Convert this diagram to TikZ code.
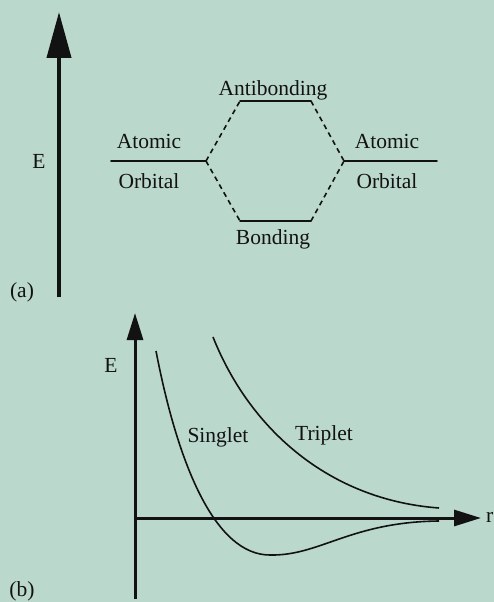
\documentclass[tikz,border=0pt]{standalone}
\usepackage{fontspec}
\setmainfont{Liberation Serif}
\usetikzlibrary{arrows.meta}
\definecolor{paper}{HTML}{BBD8CC}
\definecolor{ink}{HTML}{121212}

\begin{document}
\begin{tikzpicture}[x=1pt,y=-1pt,font=\fontsize{21.5}{25}\selectfont,text=ink,
  level/.style={draw=ink,line width=1.6pt,line cap=round},
  link/.style={draw=ink,line width=1.6pt,dash pattern=on 5pt off 4pt},
  curve/.style={draw=ink,line width=1.6pt},
  bigaxis/.style={draw=ink,line width=4pt,-{Triangle[length=46pt,width=24pt]}},
  axis/.style={draw=ink,line width=3pt,-{Triangle[length=27pt,width=16pt]}},
  lab/.style={anchor=base,inner sep=0pt}]
\path[use as bounding box,fill=paper] (0,0) rectangle (494,602);

% (a) orbital energy levels
\coordinate (Ebot) at (59,297);
\coordinate (Etop) at (59,12);
\draw[bigaxis] (Ebot) -- (Etop);
\node[lab] (Ea) at (39,168) {E};
\node[lab] (pa) at (22,297) {(a)};

\coordinate (aoL-a) at (111,161);
\coordinate (aoL-b) at (206,161);
\coordinate (ab-a) at (240,101);
\coordinate (ab-b) at (311,101);
\coordinate (bo-a) at (240,221);
\coordinate (bo-b) at (311,221);
\coordinate (aoR-a) at (344,161);
\coordinate (aoR-b) at (437,161);
\foreach \lv in {aoL,ab,bo,aoR}
  \draw[level] (\lv-a) -- (\lv-b);
\draw[link] (aoL-b) -- (ab-a);
\draw[link] (aoL-b) -- (bo-a);
\draw[link] (ab-b) -- (aoR-a);
\draw[link] (bo-b) -- (aoR-a);

\foreach \x/\s in {149/L,387/R}{
  \node[lab] (atom\s) at (\x,148) {Atomic};
  \node[lab] (orb\s) at (\x,188) {Orbital};
}
\node[lab] (antib) at (273,95) {Antibonding};
\node[lab] (bond) at (273,244) {Bonding};

% (b) potential energy against separation r
\coordinate (O) at (135,518);
\coordinate (Ebot2) at (135,599);
\coordinate (Etop2) at (135,313);
\coordinate (rtip) at (481,518);
\draw[axis] (Ebot2) -- (Etop2);
\draw[axis] (O) -- (rtip);
\node[lab] (Eb) at (111,372) {E};
\node[lab,anchor=base west] (r) at (486,522) {r};
\node[lab] (pb) at (22,596) {(b)};

\draw[curve] (156,351) .. controls (178,465) and (215,555) .. (270,555)
  .. controls (320,556) and (350,522) .. (439,521);
\draw[curve] (213,337) .. controls (250,430) and (330,500) .. (439,508);
\node[lab] (sing) at (218,442) {Singlet};
\node[lab] (trip) at (324,440) {Triplet};
\end{tikzpicture}
\end{document}
